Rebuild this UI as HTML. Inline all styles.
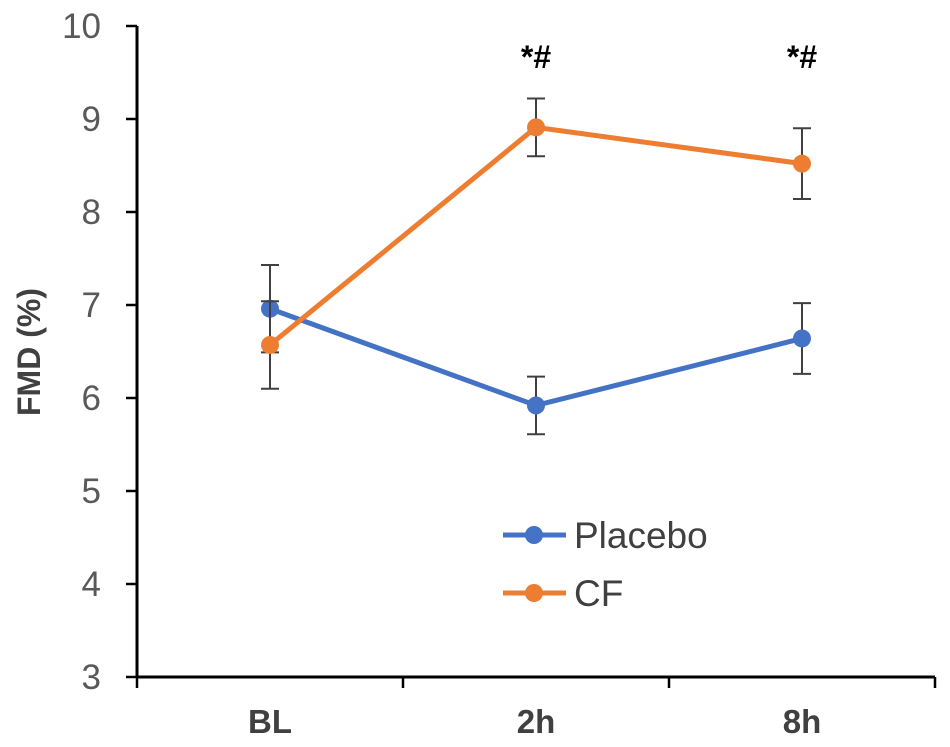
<!DOCTYPE html>
<html><head><meta charset="utf-8"><style>
body{margin:0;background:#fff;}
svg{display:block;font-family:"Liberation Sans",Arial,sans-serif;}
</style></head><body>
<svg id="chart" width="950" height="747">
<g id="axes"></g><g id="marks"></g>
<g>
<g>
<line x1="503" y1="535" x2="566" y2="535" stroke="#4472C4" stroke-width="5"/>
<circle cx="534" cy="535" r="9" fill="#4472C4"/>
<text x="574" y="548" font-size="37" fill="#404040">Placebo</text></g>
<g>
<line x1="503" y1="593" x2="566" y2="593" stroke="#ED7D31" stroke-width="5"/>
<circle cx="534" cy="593" r="9" fill="#ED7D31"/>
<text x="574" y="606" font-size="37" fill="#404040">CF</text></g>
</g>
<text transform="translate(40,352) rotate(-90)" text-anchor="middle" font-size="32" font-weight="bold" fill="#404040">FMD (%)</text>
</svg>
<script>
const categories=["BL","2h","8h"];
const placebo=[6.96,5.92,6.64];
const placeboErr=[0.47,0.31,0.38];
const cf=[6.57,8.91,8.52];
const cfErr=[0.47,0.31,0.38];
const yTicks=[3,4,5,6,7,8,9,10];
const annotations=["","*#","*#"];
const NS="http://www.w3.org/2000/svg";
const x0=137,x1=935,yb=677;
function X(i){return x0+(x1-x0)/categories.length*(i+0.5);}
function Y(v){return yb-(v-3)*93;}
function mk(parent,tag,attrs,text){const e=document.createElementNS(NS,tag);for(const k in attrs)e.setAttribute(k,attrs[k]);if(text!==undefined)e.textContent=text;parent.appendChild(e);return e;}
const axes=document.getElementById('axes'),marks=document.getElementById('marks');
let a=mk(axes,'line',{x1:x0,y1:Y(10),x2:x0,y2:yb,stroke:'#000','stroke-width':3});


a=mk(axes,'line',{x1:x0-1,y1:yb,x2:x1,y2:yb,stroke:'#000','stroke-width':3});


yTicks.forEach(v=>{
 mk(axes,'line',{x1:x0-11,y1:Y(v),x2:x0,y2:Y(v),stroke:'#000','stroke-width':2.5});
 const t=mk(axes,'text',{x:101,y:Y(v)+12,'text-anchor':'end','font-size':35,fill:'#595959'},v);
 
 
});
for(let i=0;i<=categories.length;i++){const xx=x0+(x1-x0)/categories.length*i;mk(axes,'line',{x1:xx,y1:yb,x2:xx,y2:yb+11,stroke:'#000','stroke-width':2.5});}
categories.forEach((c,i)=>{
 const t=mk(axes,'text',{x:X(i),y:733,'text-anchor':'middle','font-size':33,'font-weight':'bold',fill:'#404040'},c);
 
 
 if(annotations[i]){const n=mk(axes,'text',{x:X(i),y:68,'text-anchor':'middle','font-size':32,'font-weight':'bold',fill:'#000'},annotations[i]);
 
 }
});
function series(vals,errs,color,name){
 const g=mk(marks,'g',{});
 
 
 vals.forEach((v,i)=>{const lo=Y(v-errs[i]),hi=Y(v+errs[i]);
  mk(g,'line',{x1:X(i),y1:lo,x2:X(i),y2:hi,stroke:'#404040','stroke-width':2});
  mk(g,'line',{x1:X(i)-9,y1:lo,x2:X(i)+9,y2:lo,stroke:'#404040','stroke-width':2});
  mk(g,'line',{x1:X(i)-9,y1:hi,x2:X(i)+9,y2:hi,stroke:'#404040','stroke-width':2});});
 mk(g,'polyline',{points:vals.map((v,i)=>X(i)+','+Y(v)).join(' '),fill:'none',stroke:color,'stroke-width':5});
 vals.forEach((v,i)=>{const c=mk(g,'circle',{cx:X(i),cy:Y(v),r:9,fill:color});
  
  });
}
series(placebo,placeboErr,'#4472C4','placebo');
series(cf,cfErr,'#ED7D31','cf');
</script>
</body></html>
